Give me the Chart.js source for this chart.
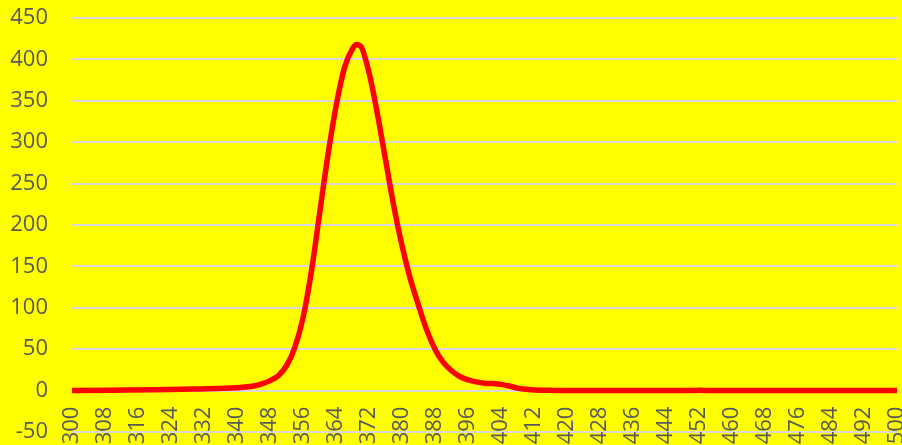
<!DOCTYPE html>
<html>
<head>
<meta charset="utf-8">
<script src="https://cdn.jsdelivr.net/npm/chart.js@4"></script>
<style>
  html, body { margin: 0; padding: 0; background: #ffff00; }
  #wrap { width: 902px; height: 445px; }
</style>
</head>
<body>
<div id="wrap"><canvas id="spectrumChart"></canvas></div>
<script>
const wavelengths = [300, 310, 320, 330, 340, 344, 346, 348, 350, 352, 354, 356, 358, 360, 362, 364, 366, 368, 369, 370,
    372, 374, 376, 378, 380, 382, 384, 386, 388, 390, 392, 394, 396, 398, 400, 402, 404, 406, 408, 410,
    412, 416, 420, 430, 440, 450, 452, 455, 460, 470, 480, 490, 500];
const intensity = [0, 0.5, 1, 2, 3.5, 5.5, 8, 12, 18, 30, 52, 88, 143, 213, 283, 343, 389, 413, 418, 416,
    384, 335, 279, 223, 175, 135, 103, 73, 50, 34, 24, 17, 13, 10.5, 9, 8.5, 7.5, 5.5, 3, 1.5,
    0.8, 0.3, 0, 0, 0, 0, 0.5, 0, 0, 0, 0, 0, 0];

const xTickStart = 300, xTickEnd = 500, xTickStep = 8;
const yTickStart = -50, yTickEnd = 450, yTickStep = 50;

const points = wavelengths.map((w, i) => ({ x: w, y: intensity[i] }));

Chart.defaults.font.family = "'Open Sans', sans-serif";
Chart.defaults.font.size = 22;
Chart.defaults.color = "#595959";

// drop the extra room Chart.js keeps for half labels at the ends of the axes
function noEdgePadding(scale) {
    scale.paddingLeft = 0;
    scale.paddingRight = 0;
    scale.paddingTop = 0;
    scale.paddingBottom = 0;
}

const ctx = document.getElementById("spectrumChart").getContext("2d");
new Chart(ctx, {
    type: "line",
    data: {
        datasets: [
            {
                data: points,
                borderColor: "#ff0000",
                borderWidth: 5.5,
                borderCapStyle: "round",
                borderJoinStyle: "round",
                pointRadius: 0,
                cubicInterpolationMode: "monotone",
                fill: false,
            },
        ],
    },
    options: {
        responsive: true,
        maintainAspectRatio: false,
        animation: false,
        layout: { padding: { top: 18, right: 5, bottom: 13, left: 0 } },
        plugins: {
            legend: { display: false },
            tooltip: { enabled: false },
        },
        scales: {
            x: {
                type: "linear",
                position: { y: 0 },
                min: xTickStart,
                max: xTickEnd,
                grid: { display: false, drawTicks: false },
                border: { display: false },
                ticks: {
                    stepSize: xTickStep,
                    minRotation: 90,
                    maxRotation: 90,
                    padding: 16,
                    autoSkip: false,
                },
                afterFit: noEdgePadding,
            },
            y: {
                min: yTickStart,
                max: yTickEnd,
                grid: { color: "#d9d9d9", lineWidth: 2, drawTicks: false },
                border: { display: false },
                ticks: { stepSize: yTickStep, padding: 24 },
                afterFit(scale) {
                    noEdgePadding(scale);
                    scale.width = 72;
                },
            },
        },
    },
});
</script>
</body>
</html>
